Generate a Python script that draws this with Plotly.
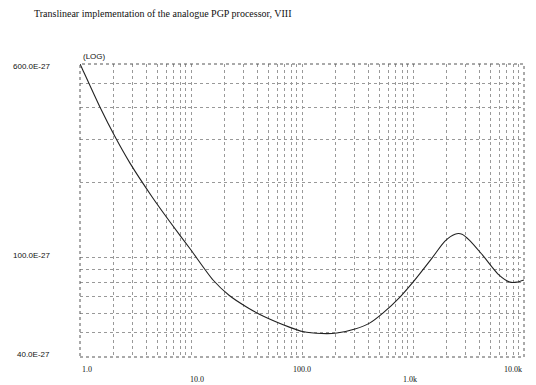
import plotly.graph_objects as go
import math

title_text = "Translinear implementation of the analogue PGP processor, VIII"

freq = [1.0, 1.04, 1.515, 2.07, 2.82, 4.45, 6.5, 10.0, 15.8, 22.0, 31.9, 45.0, 78.0, 101.7, 150, 206, 300,
        406, 535, 763, 1000, 1483, 1941, 2389, 2763, 3236, 4238, 5834, 7482, 8650, 10000]
value = [600, 578, 402, 306, 240, 176, 139, 107.5, 81.5, 70.8, 63.4, 58.3, 52.6, 50.6, 49.7, 49.9, 51.8,
         54.7, 60.0, 69.6, 79.9, 99.8, 116.8, 124.5, 124.5, 117.6, 102.5, 86.1, 79.9, 79.9, 81.5]

x_tick_labels = ["1.0", "10.0", "100.0", "1.0k", "10.0k"]
x_tick_vals = [1, 10, 100, 1000, 10000]
y_tick_labels = ["600.0E-27", "100.0E-27", "40.0E-27"]
y_tick_vals = [600, 100, 40]

x_grid = [m * 10 ** k for k in range(4) for m in range(1, 10)] + [10000]
y_grid = [40, 50, 60, 70, 80, 90, 100, 200, 300, 400, 500, 600]

fig = go.Figure()
fig.add_trace(go.Scatter(x=freq, y=value, mode="lines",
                         line=dict(color="#222222", width=1.1, shape="spline", smoothing=0.7),
                         showlegend=False, hoverinfo="skip"))

grid_style = dict(showgrid=True, gridcolor="#999999", griddash="dot", gridwidth=1,
                  showline=False, zeroline=False, ticks="", showticklabels=False)
fig.update_xaxes(type="log", range=[0, 4], tickvals=x_grid, **grid_style)
fig.update_yaxes(type="log", range=[math.log10(40), math.log10(600)], tickvals=y_grid, **grid_style)

fig.add_shape(type="rect", xref="paper", yref="paper", x0=0, y0=0, x1=1, y1=1,
              line=dict(color="#555555", width=1, dash="dot"))

ann = []
ann.append(dict(text="(LOG)", xref="paper", yref="paper", x=0, y=1, yshift=8, xshift=1,
                xanchor="left", yanchor="middle", showarrow=False,
                font=dict(family="Liberation Sans", size=8, color="#111111")))
for lab, v in zip(y_tick_labels, y_tick_vals):
    ann.append(dict(text=lab, xref="paper", yref="y", x=0, y=math.log10(v), xshift=-28,
                    xanchor="right", yanchor="middle", showarrow=False,
                    yshift=3 if v == 40 else (2 if v == 100 else -2),
                    font=dict(family="Liberation Sans", size=8, color="#111111")))
x_anchor = ["left", "center", "center", "center", "right"]
x_shift = [0, 6, 0, -3, 0]
y_shift = [-12, -22, -12, -22, -12]
for lab, v, a, xs, ys in zip(x_tick_labels, x_tick_vals, x_anchor, x_shift, y_shift):
    ann.append(dict(text=lab, xref="x", yref="paper", x=math.log10(v), y=0, xshift=xs, yshift=ys,
                    xanchor=a, yanchor="middle", showarrow=False,
                    font=dict(family="Liberation Serif", size=8, color="#111111")))

# page body has an 8px margin, so the figure is sized/offset to keep the plot area in place
fig.update_layout(width=528, height=377, margin=dict(l=72, r=12, t=56, b=28),
                  paper_bgcolor="white", plot_bgcolor="white", annotations=ann,
                  title=dict(text=title_text, xref="container", yref="container",
                             x=26 / 528, y=1 - 5 / 377, xanchor="left", yanchor="middle",
                             font=dict(family="Liberation Serif", size=10, color="#111111")))

fig.write_html("out.html")
